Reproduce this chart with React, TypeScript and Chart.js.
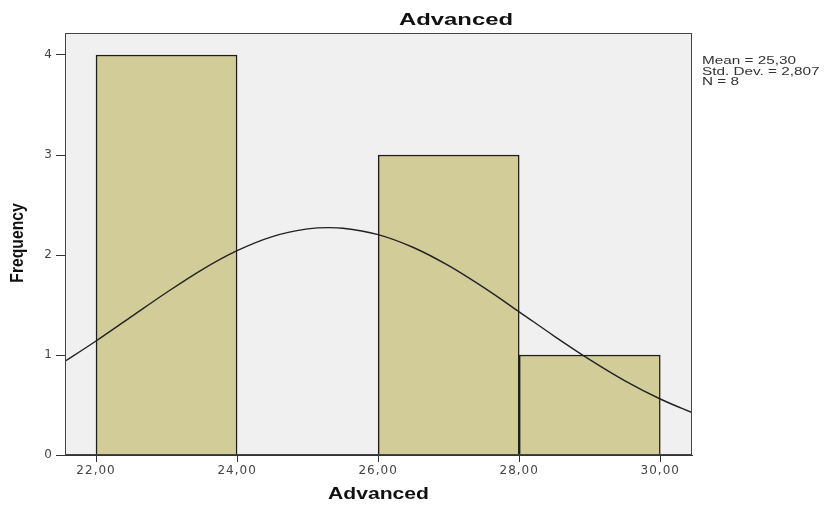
import React, { useEffect, useRef } from 'react';
import { Chart, registerables } from 'chart.js';

Chart.register(...registerables);

// Histogram bins (centre of each 2-unit bin) and frequencies
const binCenters = [23, 25, 27, 29];
const binCounts = [4, 0, 3, 1];

// Axis ticks
const xTicks = [22, 24, 26, 28, 30];
const yTicks = [0, 1, 2, 3, 4];

// Normal curve
const curveX = [21.5, 22, 22.5, 23, 23.5, 24, 24.5, 25, 25.3, 25.5, 26, 26.5, 27, 27.5, 28, 28.5, 29, 29.5, 30, 30.5];
const curveY = [0.91, 1.14, 1.383, 1.625, 1.852, 2.043, 2.184, 2.261, 2.274, 2.268, 2.204, 2.075, 1.893, 1.673, 1.432, 1.187, 0.954, 0.742, 0.56, 0.409];

// Texts
const chartTitle = 'Advanced';
const xTitle = 'Advanced';
const yTitle = 'Frequency';
const statsLines = ['Mean = 25,30', 'Std. Dev. = 2,807', 'N = 8'];

function drawStretched(
  ctx: CanvasRenderingContext2D,
  text: string,
  x: number,
  y: number,
  font: string,
  sx: number,
  align: CanvasTextAlign
) {
  ctx.save();
  ctx.font = font;
  ctx.textAlign = align;
  ctx.textBaseline = 'alphabetic';
  ctx.translate(x, y);
  ctx.scale(sx, 1);
  ctx.fillText(text, 0, 0);
  ctx.restore();
}

const decorPlugin = {
  id: 'spssDecor',
  beforeDraw(chart: any) {
    const { ctx, chartArea } = chart;
    ctx.save();
    ctx.fillStyle = '#f0f0f0';
    ctx.fillRect(chartArea.left, chartArea.top, chartArea.right - chartArea.left, chartArea.bottom - chartArea.top);
    ctx.restore();
    (ctx as any).letterSpacing = '1px';
  },
  afterDraw(chart: any) {
    const { ctx, chartArea } = chart;
    (ctx as any).letterSpacing = '0px';
    ctx.save();
    // frame
    ctx.strokeStyle = '#444';
    ctx.lineWidth = 1;
    ctx.strokeRect(chartArea.left + 0.5, chartArea.top + 0.5, chartArea.right - chartArea.left - 1, chartArea.bottom - chartArea.top - 1);

    ctx.fillStyle = '#111';
    drawStretched(ctx, chartTitle, 456, 25, 'bold 16px "Liberation Sans", Arial, sans-serif', 1.49, 'center');
    drawStretched(ctx, xTitle, (chartArea.left + chartArea.right) / 2, 499, 'bold 16px "Liberation Sans", Arial, sans-serif', 1.32, 'center');

    // y title, rotated
    ctx.save();
    ctx.translate(18, 243);
    ctx.rotate(-Math.PI / 2);
    ctx.scale(1.12, 1.3);
    ctx.font = 'bold 14px "Liberation Sans", Arial, sans-serif';
    ctx.textAlign = 'center';
    ctx.textBaseline = 'middle';
    ctx.fillText(yTitle, 0, 0);
    ctx.restore();

    // stats
    ctx.fillStyle = '#333';
    const baselines = [64, 74.5, 85];
    statsLines.forEach((s, i) => {
      drawStretched(ctx, s, 702, baselines[i], '10px "Liberation Sans", Arial, sans-serif', 1.53, 'left');
    });
    ctx.restore();
  },
};

export default function App() {
  const canvasRef = useRef<HTMLCanvasElement | null>(null);

  useEffect(() => {
    if (!canvasRef.current) return;
    const chart = new Chart(canvasRef.current, {
      type: 'bar',
      data: {
        datasets: [
          {
            type: 'line',
            order: 0,
            data: curveX.map((x, i) => ({ x, y: curveY[i] })),
            borderColor: '#222',
            borderWidth: 1.4,
            pointRadius: 0,
            cubicInterpolationMode: 'monotone',
            fill: false,
          } as any,
          {
            type: 'bar',
            order: 1,
            data: binCenters.map((x, i) => ({ x, y: binCounts[i] })),
            backgroundColor: '#d2cd98',
            borderColor: '#1e1e18',
            borderWidth: 1.5,
            borderSkipped: 'start',
            barPercentage: 1,
            categoryPercentage: 1,
          } as any,
        ],
      },
      options: {
        animation: false,
        responsive: true,
        maintainAspectRatio: false,
        layout: { padding: { top: 33, right: 135, left: 0, bottom: 0 } },
        plugins: {
          legend: { display: false },
          tooltip: { enabled: false },
          title: { display: false },
        },
        scales: {
          x: {
            type: 'linear',
            offset: false,
            min: 21.56,
            max: 30.45,
            afterBuildTicks: (s: any) => {
              s.ticks = xTicks.map((v) => ({ value: v }));
            },
            afterFit: (s: any) => {
              s.height = 52;
            },
            ticks: {
              callback: (v: any) => Number(v).toFixed(2).replace('.', ','),
              font: { family: '"DejaVu Sans", sans-serif', size: 12 },
              color: '#444',
              padding: 2,
              maxRotation: 0,
              autoSkip: false,
            },
            grid: { offset: false, drawOnChartArea: false, drawTicks: true, tickLength: 7, color: '#333' },
            border: { display: true, color: '#333', width: 1 },
          },
          y: {
            type: 'linear',
            offset: false,
            min: 0,
            max: 4.22,
            afterBuildTicks: (s: any) => {
              s.ticks = yTicks.map((v) => ({ value: v }));
            },
            afterFit: (s: any) => {
              s.width = 65;
            },
            ticks: {
              callback: (v: any) => String(v),
              font: { family: '"DejaVu Sans", sans-serif', size: 12 },
              color: '#444',
              padding: 3,
            },
            grid: { offset: false, drawOnChartArea: false, drawTicks: true, tickLength: 9, color: '#333' },
            border: { display: true, color: '#333', width: 1 },
          },
        },
      } as any,
      plugins: [decorPlugin],
    });
    return () => chart.destroy();
  }, []);

  return (
    <div style={{ position: 'absolute', left: 0, top: 0, width: 827, height: 507, background: '#fff' }}>
      <canvas ref={canvasRef} />
    </div>
  );
}
